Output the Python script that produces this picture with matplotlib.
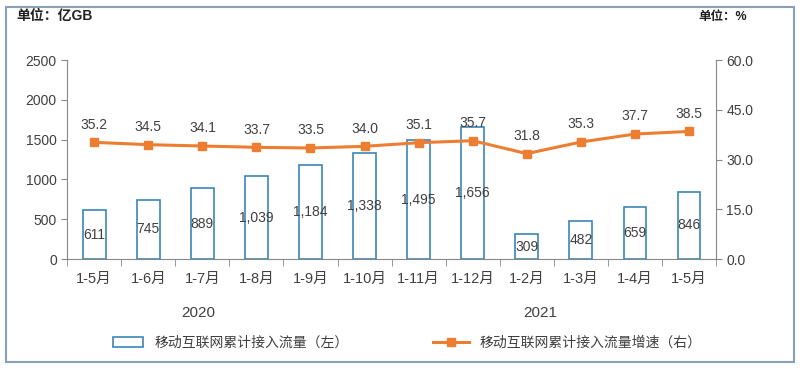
import matplotlib.pyplot as plt
from matplotlib.patches import Rectangle

plt.rcParams['font.family'] = ['Liberation Sans', 'Noto Sans CJK SC']

# data
months = ['1-5月', '1-6月', '1-7月', '1-8月', '1-9月', '1-10月', '1-11月', '1-12月',
          '1-2月', '1-3月', '1-4月', '1-5月']
traffic = [611, 745, 889, 1039, 1184, 1338, 1495, 1656, 309, 482, 659, 846]
traffic_labels = ['611', '745', '889', '1,039', '1,184', '1,338', '1,495', '1,656',
                  '309', '482', '659', '846']
growth = [35.2, 34.5, 34.1, 33.7, 33.5, 34.0, 35.1, 35.7, 31.8, 35.3, 37.7, 38.5]

text_c = '#404040'
bar_edge = '#3a86b8'
orange = '#ED7D31'

fig = plt.figure(figsize=(8, 3.69), dpi=100)
fig.patches.append(Rectangle((0.007, 0.02), 0.985, 0.96, transform=fig.transFigure,
                             fill=False, edgecolor='#8aa0b4', linewidth=1.5))

ax = fig.add_axes([0.084, 0.298, 0.811, 0.539])
x = list(range(len(months)))
ax.bar(x, traffic, width=0.42, facecolor='white', edgecolor=bar_edge, linewidth=1.2,
       label='移动互联网累计接入流量（左）', zorder=2)
for xi, v, s in zip(x, traffic, traffic_labels):
    ax.text(xi, v / 2, s, ha='center', va='center', fontsize=10, color=text_c, zorder=3)

ax.set_xlim(-0.5, len(months) - 0.5)
ax.set_ylim(0, 2500)
ax.set_yticks(range(0, 2501, 500))
ax.set_xticks(x)
ax.set_xticklabels(months, fontsize=10.5, color=text_c)
ax.set_xticks([i + 0.5 for i in range(-1, len(months))], minor=True)
ax.tick_params(axis='x', which='major', length=0, pad=9)
ax.tick_params(axis='x', which='minor', length=5, color='#888888')
ax.tick_params(axis='y', labelsize=10, labelcolor=text_c, color='#888888', length=4)
for s in ['top', 'right']:
    ax.spines[s].set_visible(False)
for s in ['left', 'bottom']:
    ax.spines[s].set_color('#888888')

ax2 = ax.twinx()
ax2.plot(x, growth, color=orange, linewidth=2.2, marker='s', markersize=6,
         label='移动互联网累计接入流量增速（右）', zorder=4)
for xi, g in zip(x, growth):
    ax2.text(xi, g + 3.2, f'{g:.1f}', ha='center', va='bottom', fontsize=10, color=text_c)
ax2.set_ylim(0, 60)
ax2.set_yticks([0, 15, 30, 45, 60])
ax2.set_yticklabels(['0.0', '15.0', '30.0', '45.0', '60.0'])
ax2.tick_params(axis='y', labelsize=10, labelcolor=text_c, color='#888888', length=4)
for s in ['top', 'left', 'bottom']:
    ax2.spines[s].set_visible(False)
ax2.spines['right'].set_color('#888888')

fig.text(0.02, 0.945, '单位：亿GB', fontsize=10, fontweight='bold', color='#222222')
fig.text(0.873, 0.945, '单位：%', fontsize=9, fontweight='bold', color='#222222')
fig.text(0.248, 0.14, '2020', ha='center', fontsize=11, color=text_c)
fig.text(0.675, 0.14, '2021', ha='center', fontsize=11, color=text_c)

h1, l1 = ax.get_legend_handles_labels()
h2, l2 = ax2.get_legend_handles_labels()
fig.legend(h1, l1, loc='center left', bbox_to_anchor=(0.125, 0.07), frameon=False,
           fontsize=10, labelcolor=text_c, handlelength=2.2, handleheight=0.7)
fig.legend(h2, l2, loc='center left', bbox_to_anchor=(0.525, 0.07), frameon=False,
           fontsize=10, labelcolor=text_c, handlelength=2.6)

fig.savefig('out.png', dpi=100)
